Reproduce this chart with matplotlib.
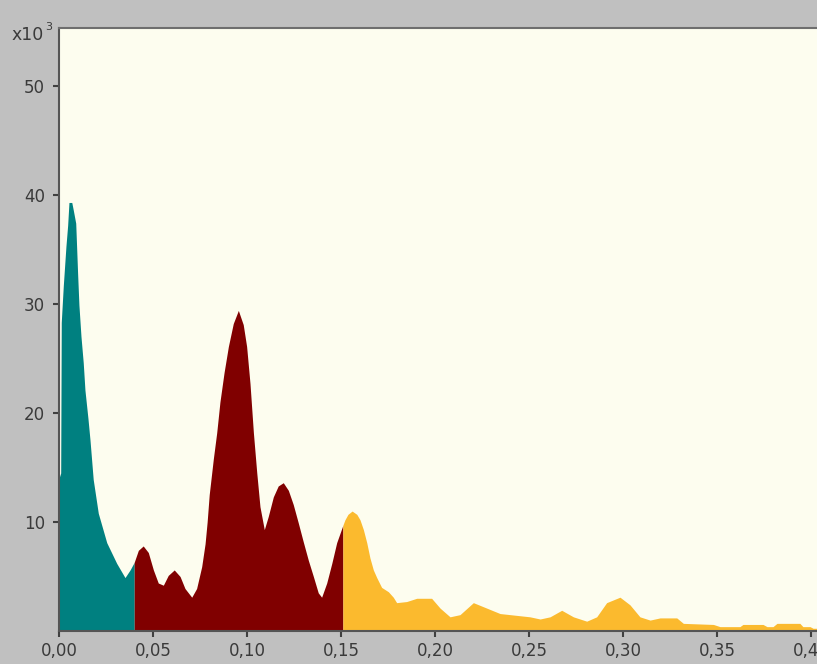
import matplotlib
matplotlib.use("Agg")
import matplotlib.pyplot as plt
import numpy as np

# Spectrum sampled along the frequency axis (values in thousands)
freq = [0.0, 0.0009, 0.0012, 0.0023, 0.0037, 0.0046, 0.0053, 0.0068, 0.0076,
        0.0089, 0.0099, 0.0106, 0.0117, 0.0129, 0.0138, 0.0154, 0.0165,
        0.0182, 0.0209, 0.0254, 0.0307, 0.0351, 0.0378, 0.0400,
        0.0404, 0.0422, 0.0448, 0.0475, 0.0502, 0.0528, 0.0555, 0.0581,
        0.0613, 0.0644, 0.0670, 0.0706, 0.0732, 0.0759, 0.0777, 0.0788,
        0.0799, 0.0821, 0.0839, 0.0856, 0.0878, 0.0901, 0.0927, 0.0954,
        0.0980, 0.0998, 0.1016, 0.1034, 0.1052, 0.1069, 0.1092, 0.1113,
        0.1140, 0.1166, 0.1193, 0.1220, 0.1246, 0.1273, 0.1299, 0.1326,
        0.1353, 0.1379, 0.1397, 0.1424, 0.1451, 0.1477, 0.1510,
        0.1521, 0.1537, 0.1559, 0.1584, 0.1601, 0.1619, 0.1637, 0.1654,
        0.1672, 0.1690, 0.1716, 0.1752, 0.1778, 0.1796, 0.1849, 0.1903,
        0.1982, 0.2027, 0.2080, 0.2133, 0.2204, 0.2275, 0.2346, 0.2452,
        0.2505, 0.2559, 0.2612, 0.2674, 0.2736, 0.2807, 0.2860, 0.2913,
        0.2984, 0.3037, 0.3090, 0.3144, 0.3197, 0.3286, 0.3321, 0.3481,
        0.3516, 0.3622, 0.3638, 0.3745, 0.3766, 0.3798, 0.3819, 0.3941,
        0.3957, 0.3995, 0.4011, 0.4032]
power = [14.0, 14.5, 28.3, 31.7, 35.3, 37.2, 39.3, 39.3, 38.6,
         37.4, 32.8, 29.9, 27.0, 24.6, 22.1, 19.5, 17.5,
         13.9, 10.8, 8.1, 6.2, 4.9, 5.6, 6.3,
         6.5, 7.4, 7.8, 7.2, 5.6, 4.4, 4.2, 5.1,
         5.6, 5.0, 3.9, 3.1, 3.9, 5.9, 8.0, 10.0,
         12.5, 15.8, 18.2, 21.0, 23.7, 26.1, 28.2, 29.4,
         28.1, 26.1, 22.7, 18.2, 14.5, 11.4, 9.3, 10.5,
         12.3, 13.3, 13.6, 12.9, 11.6, 9.9, 8.2, 6.5,
         5.0, 3.5, 3.1, 4.4, 6.2, 8.1, 9.7,
         10.2, 10.7, 11.0, 10.7, 10.2, 9.3, 8.1, 6.7,
         5.6, 4.9, 4.0, 3.6, 3.1, 2.6, 2.7, 3.0,
         3.0, 2.1, 1.3, 1.5, 2.6, 2.1, 1.6, 1.4,
         1.3, 1.1, 1.3, 1.9, 1.3, 0.9, 1.3, 2.6,
         3.1, 2.4, 1.3, 1.0, 1.2, 1.2, 0.7, 0.6,
         0.4, 0.4, 0.6, 0.6, 0.4, 0.4, 0.7, 0.7,
         0.4, 0.4, 0.25, 0.25]

# Band edges and colours
band_edges = [0.0, 0.040, 0.151, 0.4032]
band_colors = ["#008080", "#800000", "#FBBA2E"]

x_ticks = [0.00, 0.05, 0.10, 0.15, 0.20, 0.25, 0.30, 0.35, 0.40]
x_tick_labels = ["0,00", "0,05", "0,10", "0,15", "0,20", "0,25", "0,30", "0,35", "0,40"]
y_ticks = [10, 20, 30, 40, 50]
y_tick_labels = ["10", "20", "30", "40", "50"]

W, H = 817, 664
fig = plt.figure(figsize=(W / 100, H / 100), dpi=100)
fig.patch.set_facecolor("#C0C0C0")

left_px, right_px, top_px, bottom_px = 59, 817, 28, 631
ax = fig.add_axes([left_px / W, (H - bottom_px) / H,
                   (right_px - left_px) / W, (bottom_px - top_px) / H])
ax.set_facecolor("#FDFDEF")

x = np.array(freq)
y = np.array(power)
for lo, hi, c in zip(band_edges[:-1], band_edges[1:], band_colors):
    m = (x >= lo - 1e-9) & (x <= hi + 1e-9)
    ax.fill_between(x[m], 0, y[m], color=c, lw=0, zorder=2)

ax.set_xlim(0, 0.4032)
ax.set_ylim(0, 55.3)

ax.set_xticks(x_ticks)
ax.set_xticklabels(x_tick_labels)
ax.set_yticks(y_ticks)
ax.set_yticklabels(y_tick_labels)

txt_color = "#3A3A3A"
ax.tick_params(axis="both", direction="out", length=4, width=1.5,
               colors="#404040", labelcolor=txt_color, labelsize=12)
ax.tick_params(axis="x", pad=4)
ax.tick_params(axis="y", pad=6)

for side in ("left", "bottom"):
    ax.spines[side].set_color("#555555")
    ax.spines[side].set_linewidth(1.5)
ax.spines["top"].set_color("#6E6E6E")
ax.spines["top"].set_linewidth(1.5)
ax.spines["right"].set_visible(False)

fig.text(12 / W, 1 - 40 / H, "x10", color=txt_color, fontsize=12.5,
         ha="left", va="baseline")
fig.text(45 / W, 1 - 30 / H, "3", color=txt_color, fontsize=8,
         ha="left", va="baseline")

fig.savefig("out.png", dpi=100, facecolor=fig.get_facecolor())
